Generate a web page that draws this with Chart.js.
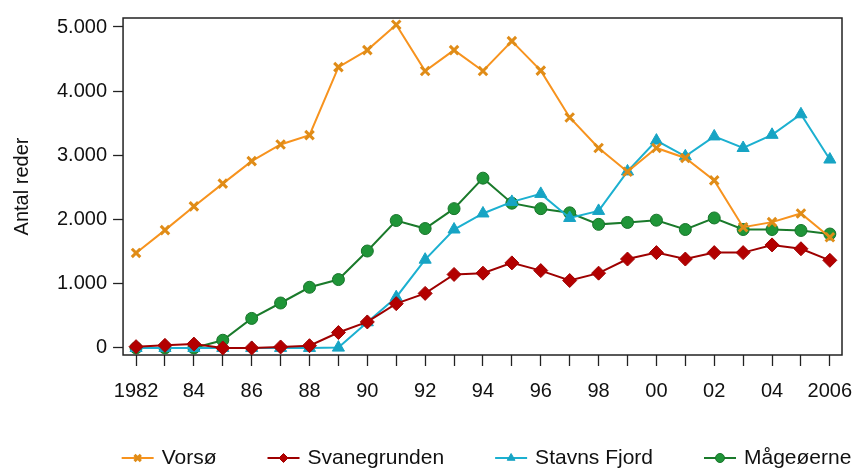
<!DOCTYPE html>
<html>
<head>
<meta charset="utf-8">
<script src="https://cdn.jsdelivr.net/npm/chart.js@4.4.1/dist/chart.umd.min.js"></script>
<style>
  html, body { margin: 0; padding: 0; background: #fff; }
  #wrap { width: 856px; height: 468px; }
</style>
</head>
<body>
<div id="wrap"><canvas id="chartCanvas" width="856" height="468"></canvas></div>
<script>
const years = [1982, 1983, 1984, 1985, 1986, 1987, 1988, 1989, 1990, 1991, 1992, 1993, 1994,
               1995, 1996, 1997, 1998, 1999, 2000, 2001, 2002, 2003, 2004, 2005, 2006];
const vorso = [1480, 1835, 2205, 2560, 2910, 3170, 3315, 4375, 4640, 5035, 4315, 4640, 4315,
               4780, 4320, 3590, 3115, 2745, 3115, 2960, 2610, 1880, 1960, 2095, 1725];
const svanegrunden = [20, 40, 60, 0, 0, 15, 35, 240, 405, 690, 850, 1145, 1165,
                      1325, 1205, 1050, 1165, 1385, 1485, 1385, 1485, 1485, 1605, 1545, 1365];
const stavnsFjord = [0, 0, 0, 0, 0, 0, 0, 5, 400, 790, 1375, 1845, 2095,
                     2275, 2400, 2025, 2135, 2750, 3230, 2985, 3295, 3115, 3320, 3640, 2935];
const maageoerne = [0, 0, 0, 120, 460, 700, 945, 1065, 1510, 1985, 1860, 2170, 2645,
                    2255, 2170, 2105, 1925, 1955, 1990, 1845, 2025, 1845, 1845, 1830, 1775];
const yTicks = [0, 1000, 2000, 3000, 4000, 5000];

const FONT = '"Liberation Sans", Arial, Helvetica, sans-serif';
Chart.defaults.font.family = FONT;
Chart.defaults.color = '#111';

function pts(vals){ return years.map((yr, i) => ({ x: yr, y: vals[i] })); }
function thousands(v){ return String(v).replace(/\B(?=(\d{3})+(?!\d))/g, '.'); }

// ramme rundt om plotområdet
const framePlugin = {
    id: 'frame',
    beforeDatasetsDraw(chart){
        const a = chart.chartArea, c = chart.ctx;
        c.save();
        c.strokeStyle = '#222';
        c.lineWidth = 1.5;
        c.strokeRect(a.left, a.top, a.right - a.left, a.bottom - a.top);
        c.restore();
    }
};

// forklaring nederst: linje + markør + tekst
const legendPlugin = {
    id: 'bottomLegend',
    afterDraw(chart){
        const c = chart.ctx, a = chart.chartArea;
        const lineLen = 32, textGap = 8, itemGap = 51;
        c.save();
        c.font = '21px ' + FONT;
        const items = chart.data.datasets.map(ds => ({ ds, w: lineLen + textGap + c.measureText(ds.label).width }));
        const total = items.reduce((s, it) => s + it.w, 0) + itemGap * (items.length - 1);
        let x = (a.left + a.right) / 2 + 4 - total / 2;
        const y = chart.height - 10;
        items.forEach(({ ds, w }) => {
            c.strokeStyle = ds.borderColor;
            c.lineWidth = 2;
            c.beginPath(); c.moveTo(x, y); c.lineTo(x + lineLen, y); c.stroke();
            c.fillStyle = ds.pointBackgroundColor;
            c.strokeStyle = ds.pointBorderColor;
            c.lineWidth = ds.pointBorderWidth;
            Chart.helpers.drawPoint(c, { pointStyle: ds.pointStyle, radius: 4.5, borderWidth: ds.pointBorderWidth, rotation: 0 }, x + lineLen / 2, y);
            c.fillStyle = '#111';
            c.textBaseline = 'middle';
            c.textAlign = 'left';
            c.fillText(ds.label, x + lineLen + textGap, y);
            x += w + itemGap;
        });
        c.restore();
    }
};

const ctx = document.getElementById('chartCanvas').getContext('2d');
const chart = new Chart(ctx, {
    type: 'line',
    data: {
        datasets: [
            { label: 'Vorsø', data: pts(vorso), borderColor: '#f7931e', borderWidth: 2,
              pointStyle: 'crossRot', pointRadius: 6, pointBorderWidth: 3,
              pointBorderColor: '#e08c17', pointBackgroundColor: '#e08c17' },
            { label: 'Svanegrunden', data: pts(svanegrunden), borderColor: '#9e0000', borderWidth: 2,
              pointStyle: 'rectRot', pointRadius: 7, pointBorderWidth: 1,
              pointBorderColor: '#a00000', pointBackgroundColor: '#b30000' },
            { label: 'Stavns Fjord', data: pts(stavnsFjord), borderColor: '#1cb0d0', borderWidth: 2,
              pointStyle: 'triangle', pointRadius: 7, pointBorderWidth: 1,
              pointBorderColor: '#17a4c4', pointBackgroundColor: '#17a4c4' },
            { label: 'Mågeøerne', data: pts(maageoerne), borderColor: '#1a7a2b', borderWidth: 2,
              pointStyle: 'circle', pointRadius: 6, pointBorderWidth: 1,
              pointBorderColor: '#17732a', pointBackgroundColor: '#1f9538' }
        ]
    },
    options: {
        responsive: false,
        animation: false,
        layout: { padding: { left: 4, right: 14, top: 16, bottom: 52 } },
        plugins: { legend: { display: false }, tooltip: { enabled: false } },
        scales: {
            x: {
                type: 'linear',
                min: 1981.55,
                max: 2006.42,
                afterBuildTicks: axis => { axis.ticks = years.map(v => ({ value: v })); },
                afterFit: axis => { axis.paddingLeft = 0; axis.paddingRight = 0; },
                grid: { drawOnChartArea: false, drawTicks: true, tickLength: 11, tickColor: '#222', tickWidth: 1.3 },
                border: { display: false },
                ticks: {
                    autoSkip: false, maxRotation: 0, padding: 13,
                    font: { size: 20 }, color: '#111',
                    callback: v => (v === years[0] || v === years[years.length - 1]) ? String(v)
                                   : (v % 2 === 0 ? String(v).slice(2) : '')
                }
            },
            y: {
                min: -110,
                max: 5140,
                afterBuildTicks: axis => { axis.ticks = yTicks.map(v => ({ value: v })); },
                grid: { drawOnChartArea: false, drawTicks: true, tickLength: 10, tickColor: '#222', tickWidth: 1.3 },
                border: { display: false },
                ticks: { padding: 6, font: { size: 20 }, color: '#111', callback: v => thousands(v) },
                title: { display: true, text: 'Antal reder', font: { size: 20 }, color: '#111', padding: { top: 6, bottom: 17 } }
            }
        }
    },
    plugins: [framePlugin, legendPlugin]
});
</script>
</body>
</html>
